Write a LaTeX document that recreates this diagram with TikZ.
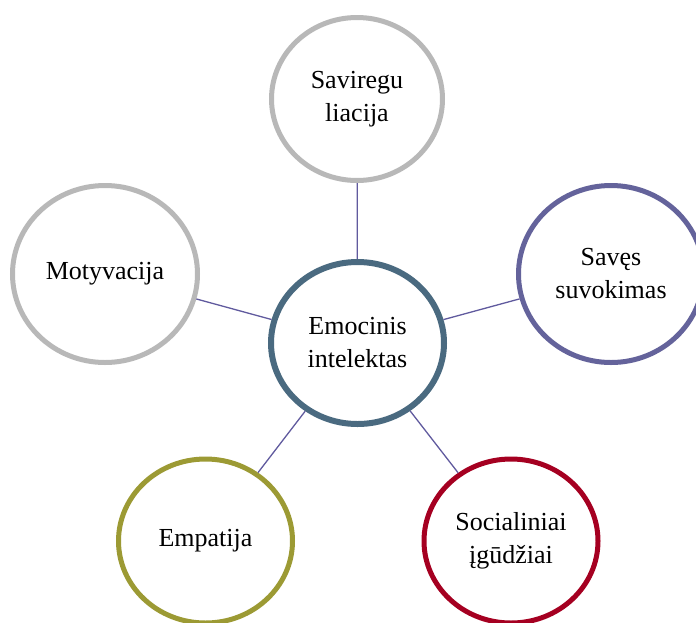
\documentclass[tikz,border=0pt]{standalone}
\usepackage{fontspec}
\setmainfont{Liberation Serif}
\usetikzlibrary{shapes.geometric}
\definecolor{ringgray}{RGB}{184,184,184}
\definecolor{ringpurple}{RGB}{100,99,155}
\definecolor{ringteal}{RGB}{74,106,128}
\definecolor{ringolive}{RGB}{156,154,52}
\definecolor{ringred}{RGB}{165,0,33}
\definecolor{linkcol}{RGB}{96,90,158}
\tikzset{
  bubble/.style={ellipse, draw, fill=white, line width=5pt, inner sep=0pt,
    align=center, font=\fontsize{26}{33}\selectfont},
  link/.style={draw=linkcol, line width=1.3pt}
}
\begin{document}
\begin{tikzpicture}[x=1pt,y=-1pt]
  \useasboundingbox (0,0) rectangle (696,622);
  \node[bubble, draw=ringteal, line width=6pt, minimum width=173, minimum height=162] (core) at (357.5,343) {Emocinis\\intelektas};
  \node[bubble, draw=ringgray, minimum width=171, minimum height=163] (self) at (357,99) {Saviregu\\liacija};
  \node[bubble, draw=ringgray, minimum width=185, minimum height=177] (motiv) at (105,274) {Motyvacija};
  \node[bubble, draw=ringpurple, minimum width=185, minimum height=177] (aware) at (611,274) {Savęs\\suvokimas};
  \node[bubble, draw=ringolive, minimum width=174, minimum height=164] (empat) at (205.5,541) {Empatija};
  \node[bubble, draw=ringred, minimum width=174, minimum height=164] (social) at (511,541) {Socialiniai\\įgūdžiai};
  \draw[link] (core) -- (self);
  \draw[link] (core) -- (motiv);
  \draw[link] (core) -- (aware);
  \draw[link] (core) -- (empat);
  \draw[link] (core) -- (social);
\end{tikzpicture}
\end{document}
